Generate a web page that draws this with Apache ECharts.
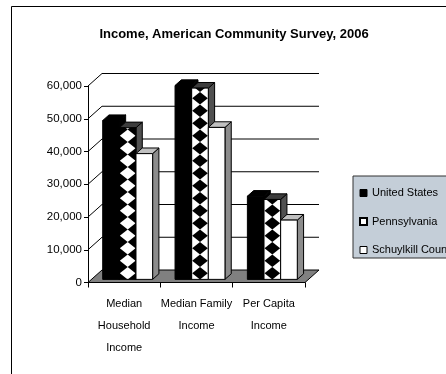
<!DOCTYPE html>
<html><head><meta charset="utf-8">
<script src="https://cdn.jsdelivr.net/npm/echarts@6/dist/echarts.min.js"></script>
<style>html,body{margin:0;padding:0;background:#fff}#c{width:446px;height:374px}</style>
</head><body><div id="c"></div>
<script>
const categories = ['Median\nHousehold\nIncome', 'Median Family\nIncome', 'Per Capita\nIncome'];
const seriesNames = ['United States', 'Pennsylvania', 'Schuylkill County'];
const usValues = [48500, 59200, 25400];
const paValues = [46300, 58400, 24400];
const schValues = [38400, 46400, 18100];
const yTicks = [0, 10000, 20000, 30000, 40000, 50000, 60000];

const DEPTH = [14, -12.5];
const FRONT = [DEPTH[0] * 0.25, DEPTH[1] * 0.25];
const BARD = [DEPTH[0] * 0.45, DEPTH[1] * 0.45];
const BAR_FRAC = 0.23;
const invertPattern = [true, false, false];
const FONT = "'Liberation Sans', Arial, sans-serif";

function fmt(v) { return String(v).replace(/\B(?=(\d{3})+(?!\d))/g, ','); }

function frameRender(params, api) {
  const t = api.value(1);
  const p = api.coord([0, t]);
  const catW = api.size([1, 0])[0];
  const L = p[0] - catW / 2, R = L + 3 * catW, y = p[1];
  if (t === 0) {
    return { type: 'polygon', shape: { points: [[L, y], [R, y], [R + DEPTH[0], y + DEPTH[1]], [L + DEPTH[0], y + DEPTH[1]]] },
      style: { fill: '#808080', stroke: '#000', lineWidth: 1 } };
  }
  return { type: 'polyline', shape: { points: [[L, y], [L + DEPTH[0], y + DEPTH[1]], [R + DEPTH[0], y + DEPTH[1]]] },
    style: { fill: null, stroke: '#000', lineWidth: 1 } };
}

function makeBarRender(si) {
  return function (params, api) {
    const ci = api.value(0), v = api.value(1);
    const base = api.coord([ci, 0]);
    const topP = api.coord([ci, v]);
    const catW = api.size([1, 0])[0];
    const bw = catW * BAR_FRAC;
    const x0 = base[0] - 1.5 * bw + si * bw + FRONT[0];
    const yb = base[1] + FRONT[1], yt = topP[1] + FRONT[1];
    const x1 = x0 + bw;
    let frontFill = '#fff', topFill = '#c0c0c0', sideFill = '#8c8c8c', stroke = '#000';
    if (si === 0) { frontFill = '#000'; topFill = '#000'; sideFill = '#000'; }
    if (si === 1) { topFill = '#3c3c3c'; sideFill = '#505050'; }
    const children = [];
    children.push({ type: 'polygon', shape: { points: [[x1, yt], [x1 + BARD[0], yt + BARD[1]], [x1 + BARD[0], yb + BARD[1]], [x1, yb]] },
      style: { fill: sideFill, stroke: stroke, lineWidth: 1 } });
    children.push({ type: 'polygon', shape: { points: [[x0, yt], [x1, yt], [x1 + BARD[0], yt + BARD[1]], [x0 + BARD[0], yt + BARD[1]]] },
      style: { fill: topFill, stroke: stroke, lineWidth: 1 } });
    if (si === 1) {
      const inv = invertPattern[ci];
      const bg = inv ? '#000' : '#fff', fg = inv ? '#fff' : '#000';
      const dias = [];
      const h = 12.5, cx = (x0 + x1) / 2;
      for (let cy = yb - h / 2; cy > yt - h; cy -= h) {
        dias.push({ type: 'polygon', shape: { points: [[cx, cy - h / 2], [x1 - 0.5, cy], [cx, cy + h / 2], [x0 + 0.5, cy]] },
          style: { fill: fg } });
      }
      children.push({ type: 'group', clipPath: { type: 'rect', shape: { x: x0, y: yt, width: bw, height: yb - yt } },
        children: [{ type: 'rect', shape: { x: x0, y: yt, width: bw, height: yb - yt }, style: { fill: bg } }].concat(dias) });
      children.push({ type: 'rect', shape: { x: x0, y: yt, width: bw, height: yb - yt }, style: { fill: null, stroke: '#000', lineWidth: 1 } });
    } else {
      children.push({ type: 'rect', shape: { x: x0, y: yt, width: bw, height: yb - yt },
        style: { fill: frontFill, stroke: stroke, lineWidth: 1 } });
    }
    return { type: 'group', children: children };
  };
}

const valueSets = [usValues, paValues, schValues];
const seriesColors = [
  { color: '#000', borderColor: '#000', borderWidth: 1 },
  { color: '#fff', borderColor: '#000', borderWidth: 2 },
  { color: '#fff', borderColor: '#000', borderWidth: 1 }
];

const chart = echarts.init(document.getElementById('c'), null, { renderer: 'canvas' });
const series = [{
  type: 'custom', name: '_frame', silent: true, renderItem: frameRender,
  data: yTicks.map(t => [0, t]), encode: { x: 0, y: 1 }, z: 1
}];
seriesNames.forEach((n, i) => {
  series.push({
    type: 'custom', name: n, renderItem: makeBarRender(i), z: 2 + i,
    itemStyle: seriesColors[i],
    data: valueSets[i].map((v, ci) => [ci, v]), encode: { x: 0, y: 1 }
  });
});

chart.setOption({
  animation: false,
  backgroundColor: '#fff',
  grid: { left: 88, top: 86, width: 217, height: 196.5, containLabel: false },
  xAxis: {
    type: 'category', data: categories,
    axisLine: { lineStyle: { color: '#000', width: 1 } },
    axisTick: { show: true, length: 5, lineStyle: { color: '#000' }, interval: 0 },
    axisLabel: { color: '#000', fontFamily: FONT, fontSize: 11, lineHeight: 22, margin: 10, interval: 0 },
    splitLine: { show: false }
  },
  yAxis: {
    type: 'value', min: 0, max: 60000, interval: 10000,
    axisLine: { show: true, lineStyle: { color: '#000', width: 1 } },
    axisTick: { show: true, length: 4, lineStyle: { color: '#000' } },
    axisLabel: { color: '#000', fontFamily: FONT, fontSize: 11.5, margin: 6, formatter: v => fmt(v) },
    splitLine: { show: false }
  },
  legend: {
    orient: 'vertical', left: 353, top: 176,
    padding: [10, 6, 1, 6], itemGap: 14.5, itemWidth: 7, itemHeight: 7, icon: 'rect',
    backgroundColor: '#c4ced8', borderColor: '#333', borderWidth: 1,
    textStyle: { color: '#000', fontFamily: FONT, fontSize: 11, lineHeight: 14 },
    data: seriesNames.map((n, i) => ({ name: n, icon: 'rect', itemStyle: seriesColors[i] }))
  },
  graphic: [
    { type: 'polyline', shape: { points: [[11.5, 374], [11.5, 6.5], [446, 6.5]] }, style: { fill: null, stroke: '#000', lineWidth: 1 }, silent: true },
    { type: 'text', x: 234, y: 34, style: { text: 'Income, American Community Survey, 2006', fill: '#000',
      font: "bold 13px 'Liberation Sans', Arial, sans-serif", textAlign: 'center', textVerticalAlign: 'middle' } }
  ],
  series: series
});
</script>
</body></html>
